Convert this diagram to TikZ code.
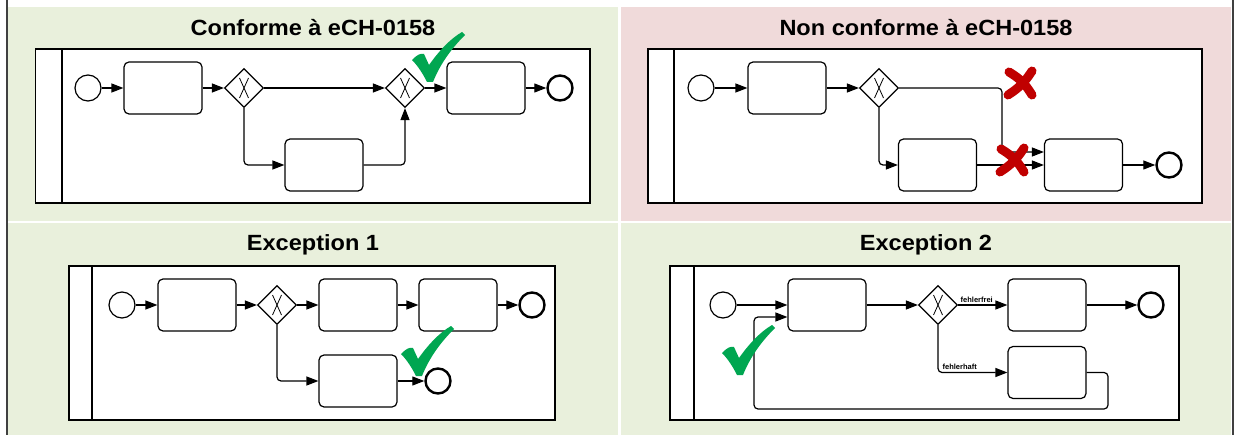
\documentclass[tikz,border=0pt]{standalone}
\usepackage{fontspec}
\setmainfont{Liberation Sans}
\usetikzlibrary{arrows.meta,shapes.geometric,calc}
\definecolor{okbg}{HTML}{E9F0DC}
\definecolor{kobg}{HTML}{F0DADA}
\definecolor{okcol}{HTML}{00A651}
\definecolor{kocol}{HTML}{C00000}
\definecolor{rim}{HTML}{404040}

\begin{document}
\begin{tikzpicture}[x=1pt,y=-1pt,
 ttl/.style={font=\fontsize{22}{26}\selectfont\bfseries,xscale=1.07,transform shape},
 lbl/.style={font=\fontsize{7.5}{9}\selectfont\bfseries,inner sep=2pt},
 pool/.style={draw,line width=1.3pt,fill=white},
 task/.style={draw,fill=white,rounded corners=5pt,line width=1.2pt,minimum width=78pt,minimum height=52pt},
 gw/.style={draw,fill=white,diamond,inner sep=0pt,minimum size=39pt,line width=1.2pt,
   path picture={\draw[line width=0.8pt] ($(path picture bounding box.center)+(-4.5,-10)$) -- ++(9,20)
     ($(path picture bounding box.center)+(4.5,-10)$) -- ++(-9,20);}},
 sev/.style={draw,fill=white,circle,inner sep=0pt,minimum size=26pt,line width=1.2pt},
 eev/.style={draw,fill=white,circle,inner sep=0pt,minimum size=25pt,line width=2.4pt},
 flow/.style={-{Triangle[length=12pt,width=9pt]},line width=1.2pt,rounded corners=4pt},
 okmark/.pic={\fill[okcol] (0,28) .. controls (5,23) and (8,21) .. (12,22) -- (17,33)
   .. controls (27,19) and (38,7) .. (50,0) -- (53,3) .. controls (41,15) and (29,30) .. (21,50)
   -- (15,50) .. controls (11,42) and (6,34) .. (0,28) -- cycle;},
 komark/.pic={\draw[kocol,line width=9pt,line cap=round] (-11,-11) to[bend left=14] (12,12)
   (12,-12) to[bend left=12] (-12,12);}]
\useasboundingbox (0,0) rectangle (1238,435);
% panels
\fill[okbg] (8,7) rectangle (618,221);
\fill[kobg] (621,7) rectangle (1231,221);
\fill[okbg] (8,223) rectangle (618,435);
\fill[okbg] (621,223) rectangle (1231,435);
\draw[rim,line width=2pt] (7,0) -- (7,435) (1233,0) -- (1233,435);
\node[ttl] (ttlA) at (313,28) {Conforme à eCH-0158};
\node[ttl] (ttlB) at (926,28) {Non conforme à eCH-0158};
\node[ttl] (ttlC) at (313,245) {Exception 1};
\node[ttl] (ttlD) at (926,245) {Exception 2};
% pools
\draw[pool] (35.5,49) rectangle (590,203) (62,49) -- (62,203);
\draw[pool] (648,49) rectangle (1202,203) (674,49) -- (674,203);
\draw[pool] (69,266) rectangle (555,420) (92,266) -- (92,420);
\draw[pool] (670,266) rectangle (1179,420) (694,266) -- (694,420);

% conforme
\node[sev] (as) at (88,88) {};
\node[task] (at1) at (163,88) {};
\node[gw] (ag1) at (244,88) {};
\node[gw] (ag2) at (405,88) {};
\node[task] (at3) at (486,88) {};
\node[eev] (ae) at (560,88) {};
\node[task] (at2) at (324,165) {};
\foreach \a/\b in {as/at1,at1/ag1,ag1/ag2,ag2/at3,at3/ae} \draw[flow] (\a) -- (\b);
\draw[flow] (ag1.south) |- (at2.west);
\draw[flow] (at2.east) -| (ag2.south);
\pic at (412,32) {okmark};

% non conforme
\node[sev] (bs) at (701,88) {};
\node[task] (bt1) at (787,88) {};
\node[gw] (bg) at (879,88) {};
\node[task] (bt2) at (937.5,165) {};
\node[task] (bt3) at (1083.5,165) {};
\node[eev] (be) at (1169,165) {};
\coordinate (bj) at (1002,152);
\foreach \a/\b in {bs/bt1,bt1/bg,bt2/bt3,bt3/be} \draw[flow] (\a) -- (\b);
\draw[flow] (bg.south) |- (bt2.west);
\draw[flow] (bg.east) -| (bj) -- (bj -| bt3.west);
\pic at (1020,83) {komark};
\pic at (1012,160) {komark};

% exception 1
\node[sev] (cs) at (122,305) {};
\node[task] (ct1) at (197,305) {};
\node[gw] (cg) at (277,305) {};
\node[task] (ct2) at (358,305) {};
\node[task] (ct3) at (458,305) {};
\node[eev] (ce) at (532,305) {};
\node[task] (ct4) at (358,381) {};
\node[eev] (ce2) at (438,381) {};
\foreach \a/\b in {cs/ct1,ct1/cg,cg/ct2,ct2/ct3,ct3/ce,ct4/ce2} \draw[flow] (\a) -- (\b);
\draw[flow] (cg.south) |- (ct4.west);
\pic at (401,326) {okmark};

% exception 2
\node[sev] (ds) at (723,305) {};
\node[task] (dt1) at (827,305) {};
\node[gw] (dg) at (938,305) {};
\node[task] (dt2) at (1047,305) {};
\node[eev] (de) at (1151,305) {};
\node[task] (dt3) at (1047,372.5) {};
\coordinate (dl1) at (1108,409);
\coordinate (dl2) at (754,317);
\foreach \a/\b in {ds/dt1,dt1/dg,dt2/de} \draw[flow] (\a) -- (\b);
\draw[flow] (dg) -- node[lbl,above right,pos=0] (dok) {fehlerfrei} (dt2);
\draw[flow] (dg.south) |- node[lbl,above right,pos=0.5,xshift=2pt] (dko) {fehlerhaft} (dt3.west);
\draw[flow] (dt3.east) -| (dl1) -| (dl2) -- (dl2 -| dt1.west);
\pic at (722,325) {okmark};
\end{tikzpicture}
\end{document}
